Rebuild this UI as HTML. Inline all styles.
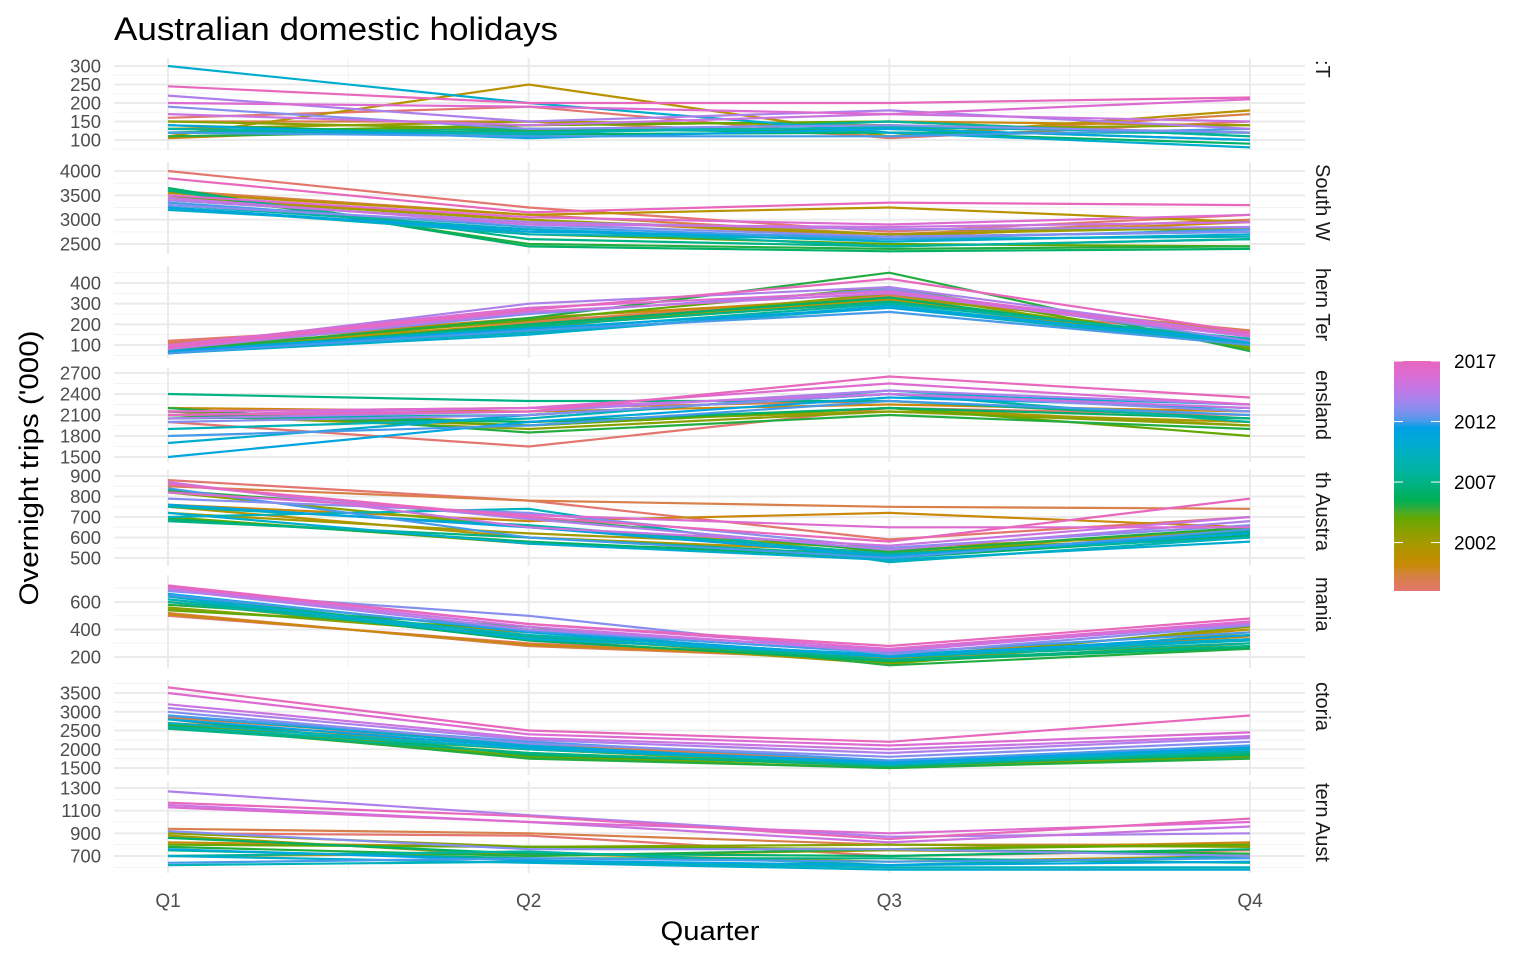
<!DOCTYPE html>
<html><head><meta charset="utf-8"><style>
html,body{margin:0;padding:0;background:#fff;}
svg{display:block;font-family:"Liberation Sans",Arial,sans-serif;}
</style></head><body>
<svg id="chart" width="1536" height="960" viewBox="0 0 1536 960">
<text x="114" y="40" font-size="32" textLength="444" lengthAdjust="spacingAndGlyphs" fill="#000">Australian domestic holidays</text>
<text x="38" y="468" font-size="27" textLength="275" lengthAdjust="spacingAndGlyphs" fill="#000" text-anchor="middle" transform="rotate(-90 38 468)">Overnight trips ('000)</text>
<text x="710" y="940" font-size="27" textLength="99" lengthAdjust="spacingAndGlyphs" fill="#000" text-anchor="middle">Quarter</text>
<g id="panels"></g>
<g id="legend"></g>
</svg>
<script>
const quarters = ["Q1","Q2","Q3","Q4"];
const years = [1998,1999,2000,2001,2002,2003,2004,2005,2006,2007,2008,2009,2010,2011,2012,2013,2014,2015,2016,2017];
const states = ["ACT","New South Wales","Northern Territory","Queensland","South Australia","Tasmania","Victoria","Western Australia"];
const stripShown = [":T","South W","hern Ter","ensland","th Austra","mania","ctoria","tern Aust"];
const legendTicks = [2002,2007,2012,2017];
const ticksACT = [100,150,200,250,300];
const ticksNSW = [2500,3000,3500,4000];
const ticksNT = [100,200,300,400];
const ticksQLD = [1500,1800,2100,2400,2700];
const ticksSA = [500,600,700,800,900];
const ticksTAS = [200,400,600];
const ticksVIC = [1500,2000,2500,3000,3500];
const ticksWA = [700,900,1100,1300];
const dataACT = [[160,190,105,150],[150,150,110,170],[105,140,150,140],[110,250,110,180],[130,150,140,120],[150,130,130,140],[120,140,150,110],[110,125,130,100],[140,115,120,90],[120,130,120,120],[130,115,150,110],[120,120,135,120],[300,200,120,80],[140,105,130,100],[120,110,110,130],[190,130,140,120],[220,150,180,130],[170,140,170,150],[200,190,170,210],[245,200,200,215]];
const dataNSW = [[4000,3250,2750,3100],[3600,3100,2700,3000],[3500,3000,2650,2950],[3550,3100,3250,2950],[3450,3000,2700,2850],[3400,2950,2800,2800],[3500,2700,2500,2450],[3600,2500,2400,2450],[3650,2450,2350,2400],[3600,2600,2450,2600],[3300,2800,2450,2600],[3250,2700,2600,2650],[3200,2800,2550,2700],[3250,2750,2650,2750],[3350,2850,2600,2800],[3300,2900,2650,2750],[3400,2950,2800,2850],[3450,2900,2850,2950],[3500,3050,2900,3100],[3850,3150,3350,3300]];
const dataNT = [[120,220,300,150],[110,210,340,170],[100,230,330,160],[90,200,320,110],[80,190,310,100],[70,180,350,90],[80,220,380,80],[70,230,450,70],[60,200,330,100],[70,190,310,120],[60,170,300,130],[70,160,280,100],[60,150,290,110],[70,180,280,120],[60,170,260,100],[80,250,370,120],[90,300,380,150],[80,260,350,140],[100,280,360,150],[90,270,420,160]];
const dataQLD = [[2000,1650,2200,2100],[2150,2200,2300,2050],[2200,2150,2250,2150],[2100,1950,2200,1950],[2150,2000,2150,2000],[2100,1900,2150,1950],[2150,1950,2200,1800],[2200,1850,2100,1900],[2100,2000,2200,2050],[2400,2300,2300,2050],[2050,2100,2400,2000],[1900,2050,2450,2150],[1700,2100,2400,2250],[1500,2000,2350,2200],[1800,1950,2300,2100],[2000,2100,2400,2150],[2050,2150,2450,2250],[2100,2200,2400,2200],[2150,2200,2550,2250],[2100,2150,2650,2350]];
const dataSA = [[880,780,590,700],[850,780,750,740],[760,680,720,650],[750,600,530,640],[720,620,550,620],[820,650,540,600],[700,570,520,620],[830,700,530,650],[690,580,500,610],[680,600,510,630],[750,660,520,600],[700,740,480,600],[720,570,490,580],[760,650,510,620],[840,600,500,640],[790,720,550,660],[860,690,540,680],[870,650,560,700],[820,710,650,650],[860,700,580,790]];
const dataTAS = [[500,300,200,300],[520,280,180,330],[510,290,190,350],[550,380,200,400],[600,330,150,380],[560,350,170,420],[540,400,160,300],[580,420,140,260],[620,320,170,270],[650,350,180,280],[600,340,200,300],[620,360,210,320],[640,330,220,330],[660,380,200,360],[650,390,230,380],[680,500,220,430],[690,400,250,440],[700,420,240,450],[710,440,260,460],[720,440,280,480]];
const dataVIC = [[2700,2200,1600,2000],[2850,2150,1650,1950],[2650,2100,1600,1900],[2600,1900,1550,1850],[2550,2000,1550,1800],[2700,1800,1600,1850],[2600,1800,1500,1800],[2650,1750,1500,1750],[2800,1850,1600,1850],[2550,1900,1550,1900],[2600,2000,1600,1950],[2700,2000,1650,2000],[2900,2100,1600,2000],[2800,2050,1650,2050],[2900,2200,1700,2100],[3000,2150,1800,2200],[3100,2250,1900,2300],[3200,2300,2000,2350],[3500,2400,2100,2450],[3650,2500,2200,2900]];
const dataWA = [[900,880,700,750],[940,900,800,800],[820,780,760,820],[700,720,650,700],[880,700,750,720],[900,780,800,780],[800,780,760,800],[780,700,760,720],[860,720,700,760],[750,680,680,640],[700,740,620,700],[620,650,600,600],[700,640,580,580],[760,660,620,650],[640,680,650,680],[920,760,760,700],[1270,1060,870,900],[1150,1000,820,960],[1130,1000,900,1000],[1170,1050,850,1030]];

const allData = [dataACT,dataNSW,dataNT,dataQLD,dataSA,dataTAS,dataVIC,dataWA];
const allTicks = [ticksACT,ticksNSW,ticksNT,ticksQLD,ticksSA,ticksTAS,ticksVIC,ticksWA];
const pxFirst = [140,244,345,457,558,657,768,856];
const pxLast  = [66,171,283,373,476,602,693,788];
const panelTop = [58,162,266,368,470,575,680,781];
const panelBot = [150,254,358,462,566,668,775,873];
const NS = "http://www.w3.org/2000/svg";
const xL = 114, xR = 1305;
const qx = i => 168 + i*(1250-168)/3;

function hcl(h,c,l){
  const hr=h*Math.PI/180,u=c*Math.cos(hr),v=c*Math.sin(hr);
  const Xn=95.047,Yn=100,Zn=108.883;
  const Y = l>8 ? Math.pow((l+16)/116,3)*Yn : l/903.3*Yn;
  const un=4*Xn/(Xn+15*Yn+3*Zn), vn=9*Yn/(Xn+15*Yn+3*Zn);
  const up=u/(13*l)+un, vp=v/(13*l)+vn;
  const X=Y*9*up/(4*vp), Z=Y*(12-3*up-20*vp)/(4*vp);
  const x=X/100,y=Y/100,z=Z/100;
  let r=3.2406*x-1.5372*y-0.4986*z, g=-0.9689*x+1.8758*y+0.0415*z, b=0.0557*x-0.2040*y+1.0570*z;
  const gm=t=>{t=t<=0.0031308?12.92*t:1.055*Math.pow(t,1/2.4)-0.055;return Math.round(Math.max(0,Math.min(1,t))*255);};
  return `rgb(${gm(r)},${gm(g)},${gm(b)})`;
}
const yearColor = yr => hcl(15+(yr-1998)/19*315,82,62);

const svg = document.getElementById('chart');
const defs = document.createElementNS(NS,'defs');
svg.insertBefore(defs, svg.firstChild);
const pg = document.getElementById('panels');

states.forEach((st,p)=>{
  const data = allData[p], ticks = allTicks[p];
  const t0=ticks[0], t1=ticks[ticks.length-1];
  const top=panelTop[p], bot=panelBot[p];
  const ys = v => pxFirst[p] + (v-t0)/(t1-t0)*(pxLast[p]-pxFirst[p]);
  const g = document.createElementNS(NS,'g');
  
  
  pg.appendChild(g);
  const step=ticks[1]-ticks[0];
  for(let m=t0-step/2;m<=t1+step;m+=step){
    const y=ys(m);
    if(y>=top&&y<=bot){
      const l=document.createElementNS(NS,'line');
      l.setAttribute('x1',xL);l.setAttribute('x2',xR);l.setAttribute('y1',y);l.setAttribute('y2',y);
      l.setAttribute('stroke','#f3f3f3');l.setAttribute('stroke-width','1');
      g.appendChild(l);
    }
  }
  for(let i=0;i<4;i++){
    const l=document.createElementNS(NS,'line');
    l.setAttribute('x1',qx(i));l.setAttribute('x2',qx(i));l.setAttribute('y1',top);l.setAttribute('y2',bot);
    l.setAttribute('stroke','#ebebeb');l.setAttribute('stroke-width','2');
    g.appendChild(l);
    if(i<3){
      const m=document.createElementNS(NS,'line');
      const mx2=(qx(i)+qx(i+1))/2;
      m.setAttribute('x1',mx2);m.setAttribute('x2',mx2);m.setAttribute('y1',top);m.setAttribute('y2',bot);
      m.setAttribute('stroke','#f3f3f3');m.setAttribute('stroke-width','1');
      g.appendChild(m);
    }
  }
  ticks.forEach(t=>{
    const y=ys(t);
    const l=document.createElementNS(NS,'line');
    l.setAttribute('x1',xL);l.setAttribute('x2',xR);l.setAttribute('y1',y);l.setAttribute('y2',y);
    l.setAttribute('stroke','#ebebeb');l.setAttribute('stroke-width','2');
    g.appendChild(l);
    const tx=document.createElementNS(NS,'text');
    tx.setAttribute('x',101);tx.setAttribute('y',y+6.5);tx.setAttribute('text-anchor','end');
    tx.setAttribute('font-size','18.5');tx.setAttribute('fill','#4d4d4d');
    tx.textContent=t;
    
    
    g.appendChild(tx);
  });
  years.forEach((yr,k)=>{
    const pts=data[k].map((v,i)=>qx(i).toFixed(1)+','+ys(v).toFixed(1)).join(' ');
    const pl=document.createElementNS(NS,'polyline');
    pl.setAttribute('points',pts);pl.setAttribute('fill','none');
    pl.setAttribute('stroke',yearColor(yr));pl.setAttribute('stroke-width','2.2');
    
    
    g.appendChild(pl);
  });
  const cp=document.createElementNS(NS,'clipPath');
  cp.setAttribute('id','clip'+p);
  const r=document.createElementNS(NS,'rect');
  r.setAttribute('x',1300);r.setAttribute('y',top);r.setAttribute('width',60);r.setAttribute('height',bot-top);
  cp.appendChild(r);defs.appendChild(cp);
  const sg=document.createElementNS(NS,'g');
  sg.setAttribute('clip-path','url(#clip'+p+')');
  const stx=document.createElementNS(NS,'text');
  const sy=top+2;
  stx.setAttribute('x',sy);stx.setAttribute('y',-1316);
  stx.setAttribute('font-size','20');stx.setAttribute('fill','#1a1a1a');
  stx.setAttribute('transform','rotate(90)');
  stx.textContent=stripShown[p];
  
  
  sg.appendChild(stx);g.appendChild(sg);
});
quarters.forEach((q,i)=>{
  const t=document.createElementNS(NS,'text');
  t.setAttribute('x',qx(i));t.setAttribute('y',907);t.setAttribute('text-anchor','middle');
  t.setAttribute('font-size','19');t.setAttribute('fill','#4d4d4d');
  t.textContent=q;
  
  
  svg.appendChild(t);
});
const lg=document.getElementById('legend');
const barTop=361, barBot=591, bx=1394, bw=46;
const ly = yr => barBot - (yr-1998)/19*(barBot-barTop);
const grad=document.createElementNS(NS,'linearGradient');
grad.setAttribute('id','yg');grad.setAttribute('x1','0');grad.setAttribute('y1','1');grad.setAttribute('x2','0');grad.setAttribute('y2','0');
for(let k=0;k<=38;k++){
  const yr=1998+k/2;
  const s=document.createElementNS(NS,'stop');
  s.setAttribute('offset',(k/38).toFixed(3));s.setAttribute('stop-color',yearColor(yr));
  grad.appendChild(s);
}
defs.appendChild(grad);
const bar=document.createElementNS(NS,'rect');
bar.setAttribute('x',bx);bar.setAttribute('y',barTop);bar.setAttribute('width',bw);bar.setAttribute('height',barBot-barTop);
bar.setAttribute('fill','url(#yg)');


lg.appendChild(bar);
legendTicks.forEach(yr=>{
  const y=ly(yr);
  [[bx,bx+9],[bx+bw-9,bx+bw]].forEach(([a,b])=>{
    const l=document.createElementNS(NS,'line');
    l.setAttribute('x1',a);l.setAttribute('x2',b);l.setAttribute('y1',y);l.setAttribute('y2',y);
    l.setAttribute('stroke','#fff');l.setAttribute('stroke-width','1');
    lg.appendChild(l);
  });
  const t=document.createElementNS(NS,'text');
  t.setAttribute('x',1454);t.setAttribute('y',y+7);t.setAttribute('font-size','19');t.setAttribute('fill','#000');
  t.textContent=yr;
  
  
  lg.appendChild(t);
});
</script>
</body></html>
